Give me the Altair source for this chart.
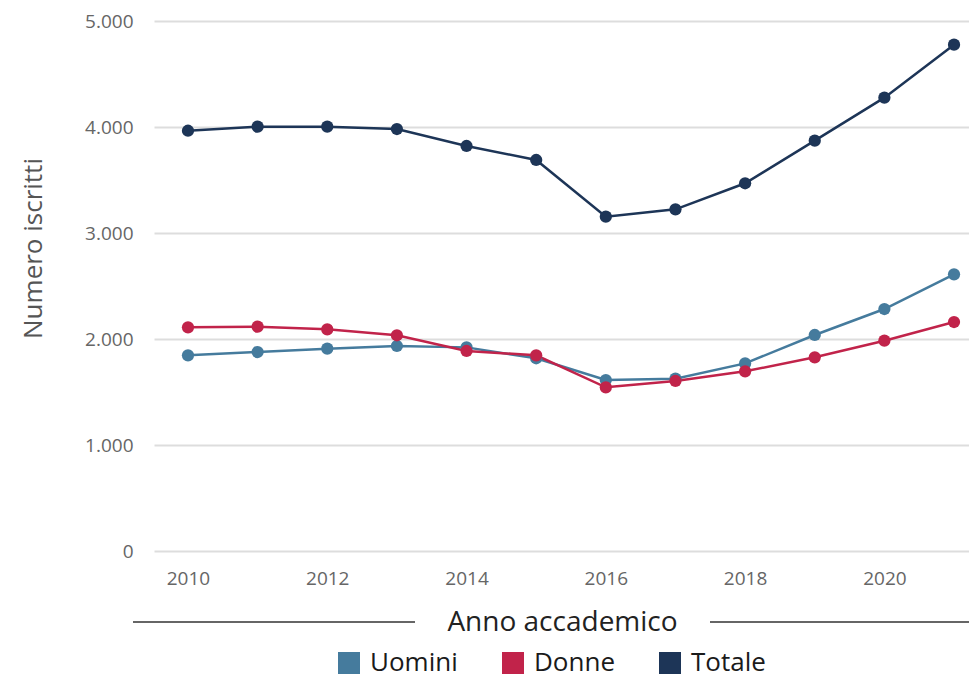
import altair as alt
import pandas as pd

years = list(range(2010, 2022))
uomini = [1846, 1877, 1909, 1934, 1921, 1818, 1613, 1626, 1770, 2038, 2283, 2610]
donne = [2110, 2116, 2091, 2035, 1887, 1846, 1544, 1604, 1695, 1827, 1984, 2160]
totale = [3965, 4003, 4003, 3981, 3821, 3689, 3154, 3223, 3469, 3871, 4277, 4777]

series_names = ["Uomini", "Donne", "Totale"]
series_colors = ["#457b9d", "#c1234a", "#1d3557"]
x_ticks = [2010, 2012, 2014, 2016, 2018, 2020]
y_ticks = [0, 1000, 2000, 3000, 4000, 5000]

rows = []
for name, vals in zip(series_names, [uomini, donne, totale]):
    for y, v in zip(years, vals):
        rows.append({"anno": y, "serie": name, "valore": v})
df = pd.DataFrame(rows)

FONT = "Open Sans"
W, H = 815, 530

xenc = alt.X(
    "anno:Q",
    scale=alt.Scale(domain=[2009.512, 2021.215], nice=False, zero=False),
    axis=alt.Axis(
        values=x_ticks, format="d", grid=False, ticks=False, domain=False,
        labelFontSize=19, labelColor="#666666", labelPadding=18, labelFont=FONT,
        title="Anno accademico", titleFontSize=28, titleFontWeight="normal",
        titleColor="#222222", titleFont=FONT, titleX=408, titleY=71,
        titleAlign="center", titleBaseline="middle",
    ),
)
yenc = alt.Y(
    "valore:Q",
    scale=alt.Scale(domain=[0, 5000], nice=False),
    axis=alt.Axis(
        values=y_ticks, labelExpr="replace(format(datum.value, ','), ',', '.')",
        grid=True, gridColor="#dddddd", gridWidth=2, ticks=False, domain=False,
        labelFontSize=19, labelColor="#666666", labelPadding=21, labelFont=FONT,
        labelBaseline="middle",
        title="Numero iscritti", titleFontSize=26, titleFontWeight="normal",
        titleColor="#555555", titleFont=FONT, titleX=-121, titleY=227,
        titleAngle=270, titleAlign="center", titleBaseline="middle",
    ),
)
color = alt.Color(
    "serie:N",
    scale=alt.Scale(domain=series_names, range=series_colors),
    sort=series_names,
    legend=alt.Legend(
        title=None, orient="none", legendX=182, legendY=629, direction="horizontal",
        symbolType="square", symbolSize=484, symbolStrokeWidth=0, symbolOpacity=1,
        labelFontSize=26, labelFont=FONT, labelColor="#1a1a1a", labelOffset=8,
        columnPadding=42, padding=0,
    ),
)

base = alt.Chart(df)
lines = base.mark_line(strokeWidth=2.5).encode(x=xenc, y=yenc, color=color, detail="serie:N")
points = base.mark_point(filled=True, size=150, opacity=1).encode(
    x="anno:Q", y="valore:Q", color=alt.Color("serie:N", legend=None)
)

rule_df = pd.DataFrame({"k": [0]})
rule_left = alt.Chart(rule_df).mark_rule(color="#666666", strokeWidth=2).encode(
    x=alt.value(-21), x2=alt.value(261), y=alt.value(601)
)
rule_right = alt.Chart(rule_df).mark_rule(color="#666666", strokeWidth=2).encode(
    x=alt.value(556), x2=alt.value(815), y=alt.value(601)
)

chart = alt.layer(lines, points, rule_left, rule_right).properties(
    width=W, height=H,
    autosize=alt.AutoSizeParams(type="none"),
    padding={"left": 146, "top": 13, "right": 0, "bottom": 131},
).configure(font=FONT).configure_view(stroke=None)

chart.save("out.html", embed_options={"renderer": "svg", "actions": False})
